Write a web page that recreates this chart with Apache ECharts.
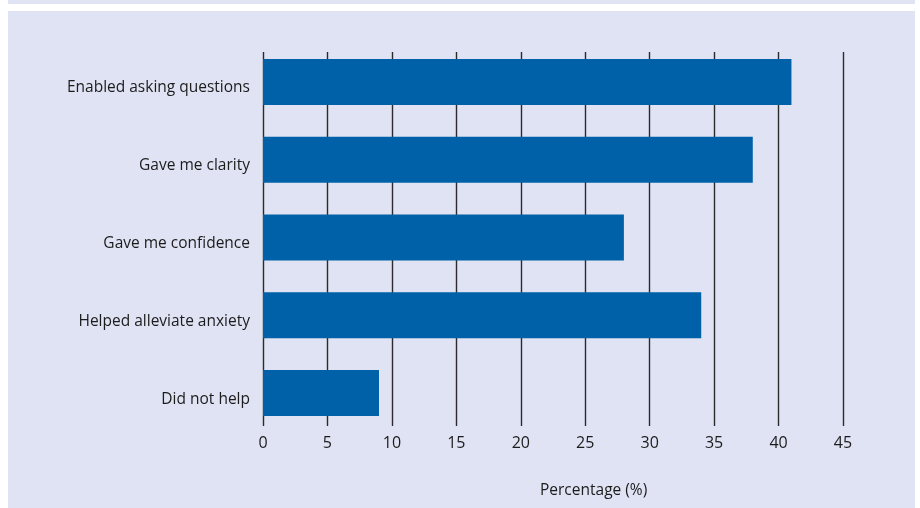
<!DOCTYPE html>
<html>
<head>
<meta charset="utf-8">
<script src="https://cdn.jsdelivr.net/npm/echarts@6/dist/echarts.min.js"></script>
<style>
  html, body { margin: 0; padding: 0; background: #ffffff; }
  #chart { width: 920px; height: 508px; }
</style>
</head>
<body>
<div id="chart"></div>
<script>
// Survey responses: what the session did for respondents
const categories = [
  'Enabled asking questions',
  'Gave me clarity',
  'Gave me confidence',
  'Helped alleviate anxiety',
  'Did not help'
];
const percentages = [41, 38, 28, 34, 9];
const axisMin = 0;
const axisMax = 45;
const axisStep = 5;
const axisTitle = 'Percentage (%)';

const panel = '#dfe3f3';
const barBlue = '#0061a8';
const ink = '#1c1c1c';
const font = '"Open Sans", "Noto Sans", sans-serif';

const chart = echarts.init(document.getElementById('chart'), null, { renderer: 'canvas' });

chart.setOption({
  backgroundColor: '#ffffff',
  animation: false,
  graphic: [
    { type: 'rect', z: -10, shape: { x: 8, y: 0, width: 907, height: 4 }, style: { fill: panel } },
    { type: 'rect', z: -10, shape: { x: 8, y: 11, width: 907, height: 497 }, style: { fill: panel } },
    {
      type: 'text', left: 540, top: 483,
      style: { text: axisTitle, font: '15.5px ' + font, fill: ink }
    }
  ],
  grid: [
    // grid holding the value axis, its vertical rules and tick labels
    { left: 263, right: 77, top: 52, bottom: 82 },
    // grid holding the bars and the category labels
    { left: 263, right: 77, top: 43, bottom: 76 }
  ],
  xAxis: [
    {
      gridIndex: 0, type: 'value', min: axisMin, max: axisMax, interval: axisStep,
      axisLine: { show: false }, axisTick: { show: false },
      splitLine: { show: true, showMinLine: true, showMaxLine: true, lineStyle: { color: '#2b2b2b', width: 1.4 } },
      axisLabel: { margin: 9, fontSize: 16, fontFamily: font, color: ink }
    },
    {
      gridIndex: 1, type: 'value', min: axisMin, max: axisMax, interval: axisStep, show: false
    }
  ],
  yAxis: [
    { gridIndex: 0, type: 'category', data: categories, inverse: true, show: false },
    {
      gridIndex: 1, type: 'category', data: categories, inverse: true,
      axisLine: { show: false }, axisTick: { show: false }, splitLine: { show: false },
      axisLabel: {
        margin: 13, fontSize: 15.5, fontFamily: font, color: ink,
        verticalAlign: 'top', lineHeight: 12
      }
    }
  ],
  series: [
    {
      type: 'bar', xAxisIndex: 1, yAxisIndex: 1, data: percentages,
      barWidth: 46, itemStyle: { color: barBlue }, z: 5
    }
  ]
});
</script>
</body>
</html>
